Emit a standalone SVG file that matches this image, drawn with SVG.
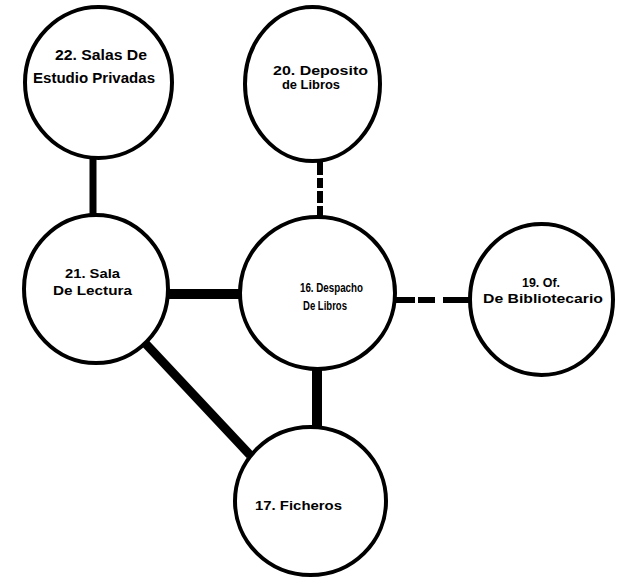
<svg xmlns="http://www.w3.org/2000/svg" width="618" height="579" viewBox="0 0 618 579">
<style>
.n{fill:#fff;stroke:#000;stroke-width:4}
.t{font-family:"Liberation Sans",Arial,sans-serif;font-weight:bold;fill:#000}
.c{stroke:#000;fill:none}
</style>
<rect width="618" height="579" fill="#fff"/>
<g id="connectors">
<line class="c" x1="93" y1="158" x2="93" y2="216" stroke-width="7"/>
<line class="c" x1="320" y1="161" x2="320" y2="218" stroke-width="6" stroke-dasharray="14 3 10 3 12 3 20"/>
<line class="c" x1="168" y1="294" x2="241" y2="294" stroke-width="10"/>
<line class="c" x1="396" y1="300" x2="470" y2="300" stroke-width="6" stroke-dasharray="19 3 17 8 30"/>
<line class="c" x1="317" y1="369" x2="317" y2="428" stroke-width="10"/>
<line class="c" x1="146" y1="344" x2="250" y2="455" stroke-width="9"/>
</g>
<g id="n22">
<ellipse class="n" cx="98.5" cy="82.5" rx="73.5" ry="75.5"/>
<text class="t" x="55" y="60" font-size="14" textLength="92" lengthAdjust="spacingAndGlyphs">22. Salas De</text>
<text class="t" x="33" y="83" font-size="14" textLength="122" lengthAdjust="spacingAndGlyphs">Estudio Privadas</text>
</g>
<g id="n20">
<ellipse class="n" cx="312.5" cy="84" rx="67.5" ry="77"/>
<text class="t" x="273" y="75" font-size="12" textLength="95" lengthAdjust="spacingAndGlyphs">20. Deposito</text>
<text class="t" x="282" y="89" font-size="12" textLength="58" lengthAdjust="spacingAndGlyphs">de Libros</text>
</g>
<g id="n21">
<ellipse class="n" cx="96" cy="289" rx="72" ry="74"/>
<text class="t" x="65" y="278" font-size="13" textLength="55" lengthAdjust="spacingAndGlyphs">21. Sala</text>
<text class="t" x="53" y="295" font-size="13" textLength="79" lengthAdjust="spacingAndGlyphs">De Lectura</text>
</g>
<g id="n16">
<ellipse class="n" cx="317.5" cy="293" rx="77.5" ry="76"/>
<text class="t" x="300" y="292" font-size="12" textLength="63" lengthAdjust="spacingAndGlyphs">16. Despacho</text>
<text class="t" x="303" y="310" font-size="12" textLength="44" lengthAdjust="spacingAndGlyphs">De Libros</text>
</g>
<g id="n19">
<ellipse class="n" cx="541.5" cy="299.5" rx="71.5" ry="75.5"/>
<text class="t" x="522" y="287" font-size="13" textLength="38" lengthAdjust="spacingAndGlyphs">19. Of.</text>
<text class="t" x="483" y="303" font-size="13" textLength="120" lengthAdjust="spacingAndGlyphs">De Bibliotecario</text>
</g>
<g id="n17">
<ellipse class="n" cx="310.5" cy="501" rx="75.5" ry="74"/>
<text class="t" x="255" y="510" font-size="13" textLength="87" lengthAdjust="spacingAndGlyphs">17. Ficheros</text>
</g>
</svg>
